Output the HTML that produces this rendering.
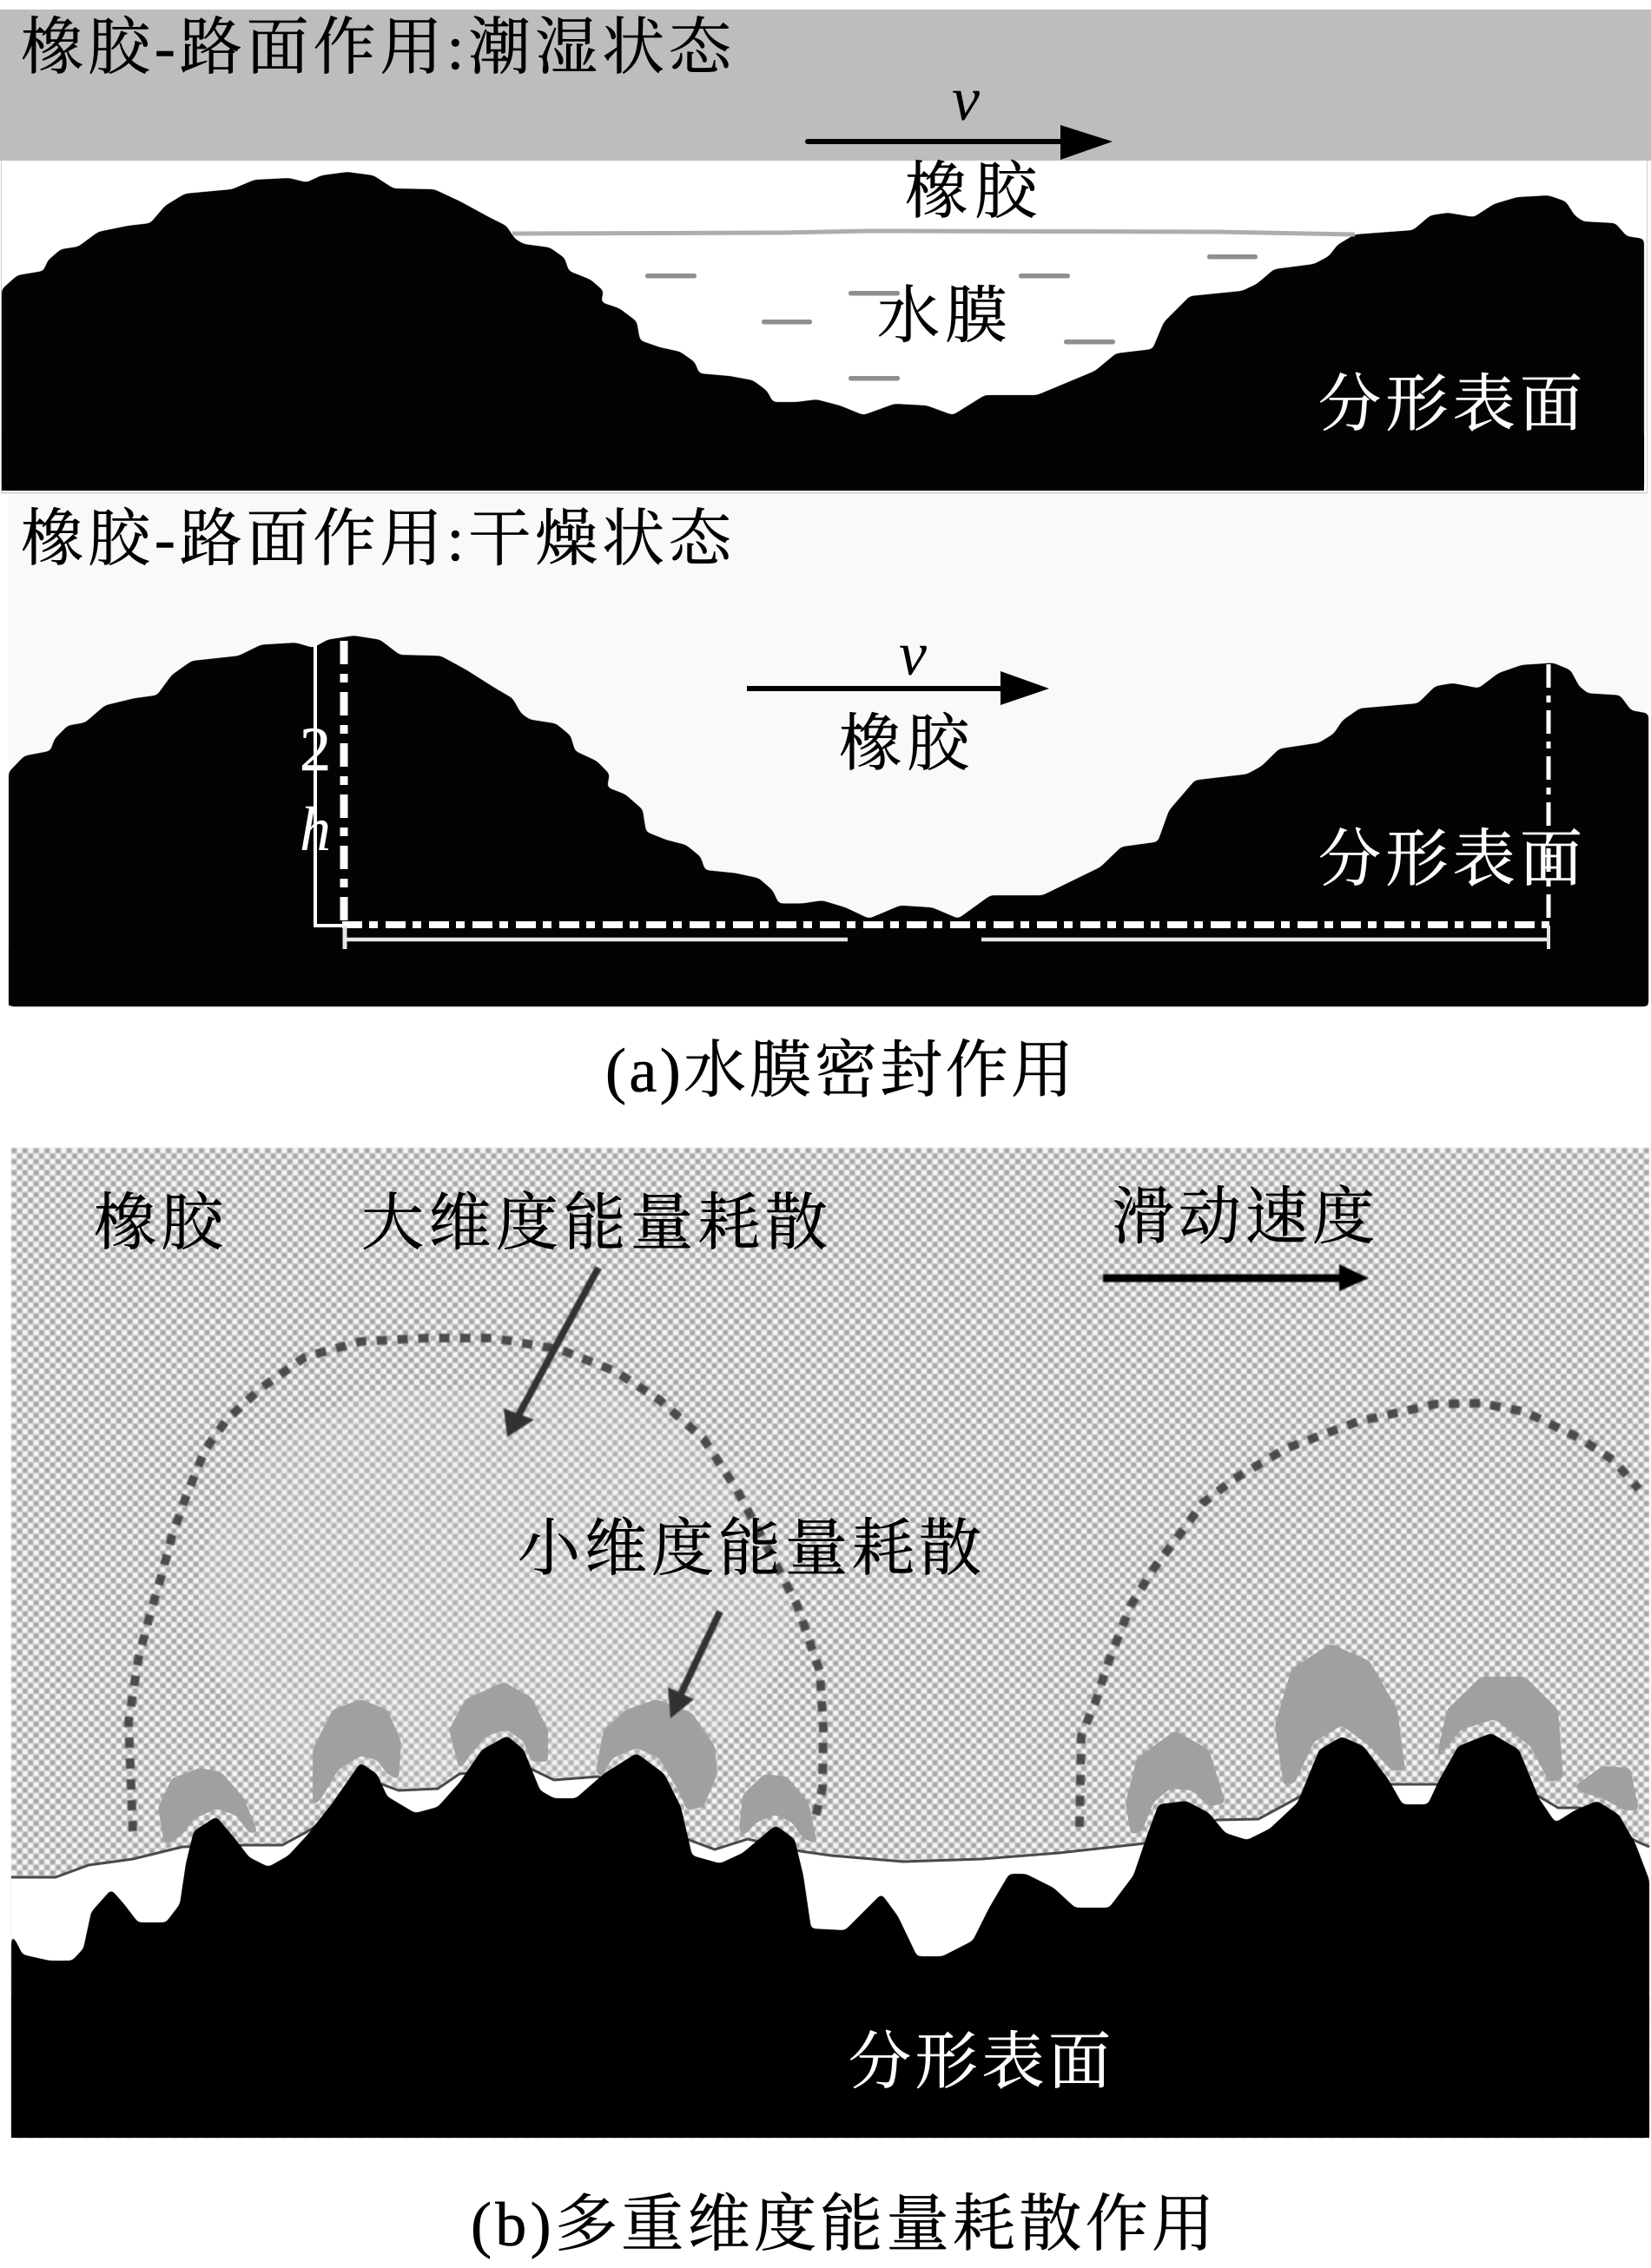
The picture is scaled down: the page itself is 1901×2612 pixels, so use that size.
<!DOCTYPE html>
<html>
<head>
<meta charset="utf-8">
<style>
html,body{margin:0;padding:0;background:#fff;width:1901px;height:2612px;overflow:hidden}
svg{display:block}
text{font-family:"Liberation Serif","Noto Serif CJK SC",serif;font-size:72px;stroke:#000;stroke-width:.6px}
.l{font-family:"Liberation Serif",serif;font-style:italic;stroke-width:0}
.w{fill:#fff;stroke:#fff}
</style>
</head>
<body>
<svg width="1901" height="2612" viewBox="0 0 1901 2612" xmlns="http://www.w3.org/2000/svg">
<defs>
<filter id="goo" x="-3%" y="-3%" width="106%" height="106%" color-interpolation-filters="sRGB">
<feGaussianBlur stdDeviation="3"/>
<feColorMatrix type="matrix" values="1 0 0 0 0 0 1 0 0 0 0 0 1 0 0 0 0 0 9 -4"/>
</filter>
<filter id="d" x="-5%" y="-5%" width="110%" height="110%"><feGaussianBlur stdDeviation="0.9"/></filter>
<polygon id="t1" fill="#030303" points="2,333 20,317 50,312 55,300 70,287 90,284 113,267 147,260 173,257 190,237 213,223 267,218 293,207 333,205 353,210 370,202 400,198 430,202 453,217 500,218 530,232 563,250 583,260 593,275 603,281 633,285 650,297 655,312 680,322 695,335 692,348 713,355 733,370 737,392 760,400 783,405 800,417 805,430 840,433 867,438 883,450 890,463 917,463 940,460 967,467 994,478 1030,465 1067,467 1097,478 1134,455 1194,455 1261,427 1285,407 1327,402 1340,371 1370,341 1400,338 1430,335 1447,327 1467,310 1513,304 1530,295 1540,282 1560,270 1627,265 1647,248 1667,245 1697,250 1720,235 1747,227 1783,225 1803,232 1813,248 1823,255 1860,257 1873,272 1893,275 1893,565 2,565"/>
<pattern id="chk" patternUnits="userSpaceOnUse" x="13" y="1322" width="12.7" height="12.7">
<rect width="12.7" height="12.7" fill="#d0d0d0"/>
<circle cx="3.2" cy="3.2" r="3.1" fill="#a6a6a6"/>
<circle cx="9.5" cy="9.5" r="3.1" fill="#a6a6a6"/>
<circle cx="9.5" cy="3.2" r="3.1" fill="#f6f6f6"/>
<circle cx="3.2" cy="9.5" r="3.1" fill="#f6f6f6"/>
</pattern>
<pattern id="chk2" patternUnits="userSpaceOnUse" x="13" y="1322" width="12.7" height="12.7">
<rect width="12.7" height="12.7" fill="#d8d8d8"/>
<circle cx="3.2" cy="3.2" r="2.8" fill="#bcbcbc"/>
<circle cx="9.5" cy="9.5" r="2.8" fill="#bcbcbc"/>
<circle cx="9.5" cy="3.2" r="2.8" fill="#f0f0f0"/>
<circle cx="3.2" cy="9.5" r="2.8" fill="#f0f0f0"/>
</pattern>
</defs>

<!-- PANEL 1 : wet -->
<rect x="0" y="11" width="1901" height="174" fill="#bdbdbd"/>
<rect x="1" y="185" width="1" height="383" fill="#cccccc"/>
<rect x="1896" y="185" width="1" height="383" fill="#cccccc"/>
<rect x="1" y="567" width="1896" height="1.5" fill="#cccccc"/>
<g filter="url(#goo)"><use href="#t1"/></g>
<rect x="2" y="500" width="1891" height="65" fill="#030303"/>
<g fill="#8f8f8f">
<rect x="743" y="315" width="59" height="5.5" rx="2.5"/>
<rect x="977" y="335" width="59" height="5.5" rx="2.5"/>
<rect x="877" y="368" width="58" height="5.5" rx="2.5"/>
<rect x="1173" y="315" width="59" height="5.5" rx="2.5"/>
<rect x="1390" y="293" width="58" height="5.5" rx="2.5"/>
<rect x="1225" y="391" width="59" height="5.5" rx="2.5"/>
<rect x="977" y="433" width="59" height="5.5" rx="2.5"/>
</g>
<polyline points="590,269 900,268 1000,266 1400,267 1560,270" fill="none" stroke="#adadad" stroke-width="5"/>
<line x1="930" y1="163" x2="1225" y2="163" stroke="#000" stroke-width="6" stroke-linecap="round"/>
<polygon points="1221,144 1281,163 1221,184" fill="#000"/>
<text x="24" y="79" textLength="818">橡胶-路面作用:潮湿状态</text>
<text class="l" x="1112" y="138" text-anchor="middle" style="font-size:72px">v</text>
<text x="1042" y="245" textLength="152">橡胶</text>
<text x="1010" y="388" textLength="150">水膜</text>
<text class="w" x="1518" y="490" textLength="304">分形表面</text>

<!-- PANEL 2 : dry -->
<rect x="10" y="570" width="1887" height="588" fill="#f9f9f9"/>
<g filter="url(#goo)"><use href="#t1" transform="translate(8,732) scale(.9985,1.164) translate(0,-198)"/></g>
<rect x="10" y="1090" width="1887" height="68" fill="#030303"/>
<text x="24" y="645" textLength="818">橡胶-路面作用:干燥状态</text>
<text class="l" x="1051" y="777" text-anchor="middle" style="font-size:72px">v</text>
<line x1="860" y1="793" x2="1156" y2="793" stroke="#000" stroke-width="6"/>
<polygon points="1152,773 1208,793 1152,812" fill="#000"/>
<text x="966" y="881" textLength="150">橡胶</text>
<text class="w" x="1518" y="1014" textLength="304">分形表面</text>
<polyline points="363,740 363,1066 396,1066" fill="none" stroke="#fff" stroke-width="4"/>
<line x1="396" y1="738" x2="396" y2="1066" stroke="#fff" stroke-width="9" stroke-dasharray="27 11 10 11"/>
<line x1="394" y1="1065" x2="1784" y2="1065" stroke="#fff" stroke-width="8" stroke-dasharray="23 8 10 9"/>
<line x1="1783" y1="765" x2="1783" y2="1065" stroke="#fff" stroke-width="5" stroke-dasharray="27 9 8 9"/>
<line x1="397" y1="1082" x2="976" y2="1082" stroke="#e6e6e6" stroke-width="4.5"/>
<line x1="1130" y1="1082" x2="1783" y2="1082" stroke="#e6e6e6" stroke-width="4.5"/>
<line x1="397" y1="1066" x2="397" y2="1093" stroke="#e6e6e6" stroke-width="5"/>
<line x1="1783" y1="1066" x2="1783" y2="1093" stroke="#e6e6e6" stroke-width="4"/>
<text class="w" x="345" y="887" style="font-family:'Liberation Serif',serif">2</text>
<text class="l w" x="345" y="979" style="font-size:72px">h</text>

<text x="697" y="1257" textLength="539">(a)水膜密封作用</text>

<!-- PANEL B -->
<g filter="url(#d)">
<rect x="13" y="1322" width="1886" height="1140" fill="url(#chk)"/>
<rect x="230" y="1600" width="680" height="470" rx="260" fill="url(#chk2)" opacity="0.5"/>
</g>
<g filter="url(#goo)" fill="#a0a0a0">
<polygon points="188,2118 182,2081 198,2048 230,2036 255,2041 281,2071 297,2111 287,2111 271,2090 249,2083 223,2095 210,2113 191,2125"/>
<polygon points="360,2081 360,2015 383,1969 415,1957 446,1969 462,2006 459,2050 446,2043 434,2027 415,2022 389,2039 370,2071"/>
<polygon points="529,2039 517,1992 536,1957 580,1937 612,1955 631,1992 631,2029 612,2029 603,2006 584,1992 561,1999 542,2020"/>
<polygon points="686,2039 695,1992 721,1969 756,1957 797,1973 823,2011 826,2043 810,2081 791,2085 781,2062 759,2025 733,2013 705,2025 692,2048"/>
<polygon points="851,2109 855,2067 880,2043 906,2046 931,2076 941,2123 925,2118 912,2099 893,2090 871,2099 858,2113"/>
<polygon points="1302,2113 1296,2076 1309,2025 1353,1993 1392,2015 1411,2076 1392,2081 1373,2062 1347,2060 1328,2076 1315,2109"/>
<polygon points="1478,2057 1468,1987 1487,1922 1532,1893 1577,1913 1609,1969 1618,2039 1602,2039 1577,2011 1545,1987 1513,2006 1491,2053"/>
<polygon points="1653,2029 1666,1969 1705,1931 1756,1931 1794,1969 1800,2048 1784,2053 1762,2011 1721,1980 1682,1992"/>
<polygon points="1813,2057 1845,2034 1877,2036 1887,2085 1871,2085 1845,2071 1820,2064"/>
</g>
<!-- dotted domes -->
<g filter="url(#d)" fill="none" stroke="#4c4c4c" stroke-width="10" stroke-dasharray="12 12" stroke-linejoin="round">
<polyline points="153,2109 148,1983 159,1912 172,1862 185,1818 198,1769 214,1724 236,1670 261,1635 300,1599 351,1563 415,1545 491,1541 568,1541 644,1554 708,1579 759,1612 810,1657 848,1715 886,1787 918,1849 944,1925 948,1990 947,2060 937,2100"/>
<polyline points="1243,2104 1245,1999 1261,1961 1277,1912 1302,1849 1328,1807 1357,1769 1385,1731 1420,1704 1481,1668 1564,1637 1653,1617 1705,1616 1756,1626 1820,1657 1858,1682 1887,1715"/>
</g>
<!-- water gaps and contact line -->
<polygon fill="#fff" points="13,2162 64,2162 102,2148 153,2141 210,2127 284,2125 325,2125 351,2111 440,2055 459,2062 504,2060 529,2043 609,2036 638,2050 689,2046 791,2118 823,2130 861,2118 922,2132 957,2137 1040,2144 1130,2141 1219,2134 1318,2123 1401,2096 1449,2095 1497,2069 1602,2055 1654,2055 1772,2069 1794,2082 1820,2082 1883,2120 1899,2127 1899,2300 13,2300"/>
<polyline fill="none" stroke="#4a4a4a" stroke-width="3" points="13,2162 64,2162 102,2148 153,2141 210,2127 284,2125 325,2125 351,2111 440,2055 459,2062 504,2060 529,2043 609,2036 638,2050 689,2046 791,2118 823,2130 861,2118 922,2132 957,2137 1040,2144 1130,2141 1219,2134 1318,2123 1401,2096 1449,2095 1497,2069 1602,2055 1654,2055 1772,2069 1794,2082 1820,2082 1883,2120 1899,2127"/>
<g filter="url(#goo)">
<polygon fill="#000" points="13,2225 26,2251 57,2258 83,2258 96,2244 105,2202 128,2176 143,2193 159,2214 191,2214 207,2193 214,2146 223,2109 249,2092 271,2118 287,2139 309,2150 332,2137 354,2113 383,2076 415,2030 434,2043 446,2069 478,2088 504,2081 529,2053 555,2015 584,1999 603,2015 622,2062 638,2071 663,2071 695,2043 733,2019 765,2043 784,2081 797,2137 829,2146 855,2134 893,2102 915,2118 925,2160 934,2221 973,2223 1015,2181 1034,2207 1056,2253 1085,2253 1120,2235 1139,2197 1162,2158 1181,2158 1213,2174 1238,2197 1277,2197 1305,2160 1321,2113 1334,2078 1366,2074 1392,2088 1411,2111 1436,2119 1462,2106 1494,2076 1519,2015 1545,2000 1570,2011 1599,2050 1615,2078 1644,2078 1657,2050 1679,2011 1717,1996 1749,2015 1772,2071 1791,2099 1813,2085 1839,2074 1864,2090 1883,2123 1899,2165 1899,2462 13,2462"/>
</g>
<rect x="13" y="2300" width="1886" height="162" fill="#000"/>
<!-- arrows -->
<g filter="url(#d)">
<line x1="689" y1="1460" x2="597" y2="1630" stroke="#333" stroke-width="8"/>
<polygon points="584,1655 580,1622 615,1635" fill="#333"/>
<line x1="829" y1="1856" x2="782" y2="1955" stroke="#333" stroke-width="8"/>
<polygon points="772,1979 769,1943 799,1957" fill="#333"/>
<line x1="1270" y1="1472" x2="1545" y2="1472" stroke="#000" stroke-width="9"/>
<polygon points="1542,1456 1576,1472 1542,1487" fill="#000"/>
</g>
<!-- labels -->
<text x="108" y="1433" textLength="149">橡胶</text>
<text x="416" y="1433" textLength="537">大维度能量耗散</text>
<text x="1280" y="1426" textLength="303">滑动速度</text>
<text x="596" y="1808" textLength="534">小维度能量耗散</text>
<text class="w" x="977" y="2399" textLength="302">分形表面</text>
<text x="542" y="2586" textLength="856">(b)多重维度能量耗散作用</text>
</svg>
</body>
</html>
